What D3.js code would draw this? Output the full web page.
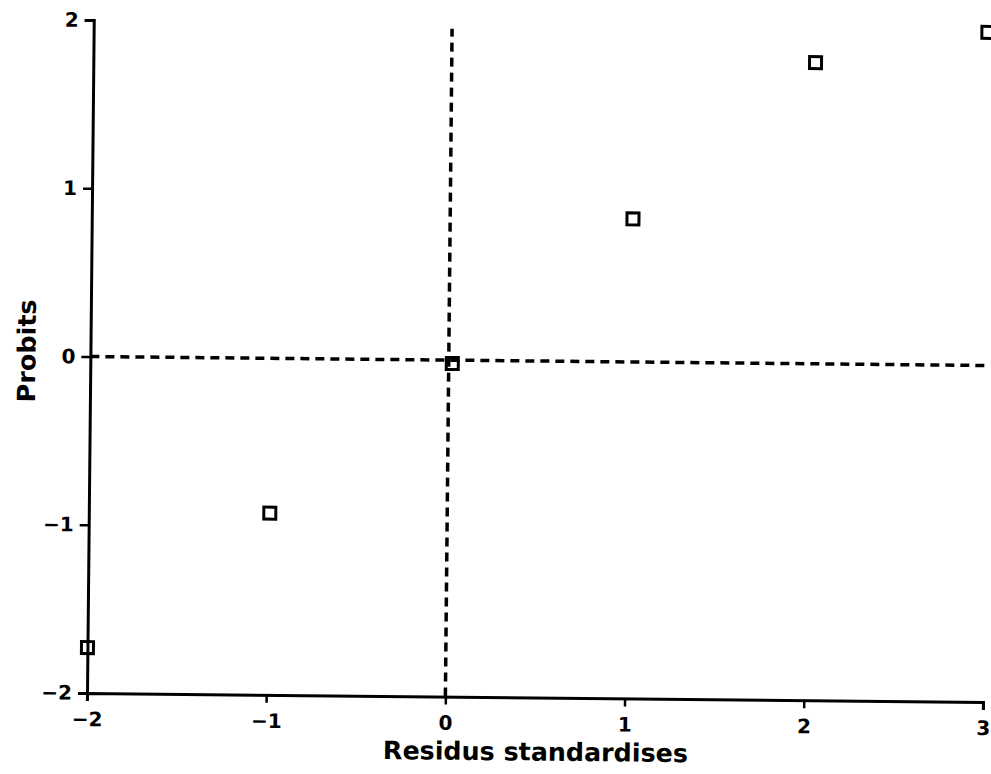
<!DOCTYPE html>
<html>
<head>
<meta charset="utf-8">
<script src="https://cdn.jsdelivr.net/npm/d3@7"></script>
<style>
	body { margin: 0; background: #fff; }
	svg { display: block; }
	text { font-family: "DejaVu Sans", sans-serif; font-weight: bold; fill: #000; }
</style>
</head>
<body>
<div id="chart"></div>
<script>
// residus standardises (x) vs probits (y)
var residus = [-2.0, -0.99, 0.02, 1.02, 2.03, 2.99];
var probits = [-1.73, -0.92, -0.02, 0.85, 1.79, 1.98];
var xTicks = [-2, -1, 0, 1, 2, 3];
var yTicks = [-2, -1, 0, 1, 2];
var xLabel = "Residus standardises";
var yLabel = "Probits";

var margin = { top: 20, right: 8, bottom: 81, left: 87 },
	width = 991 - margin.left - margin.right,
	height = 774 - margin.top - margin.bottom;

var svg = d3.select("#chart")
	.append("svg")
	.attr("width", 991)
	.attr("height", 774);

// the scanned page is tilted a little clockwise
var g = svg.append("g")
	.attr("transform", "rotate(0.575," + margin.left + "," + (margin.top + height) + ") translate(" + margin.left + "," + margin.top + ")");

var x = d3.scaleLinear().domain([-2, 3]).range([0, 896]);
var y = d3.scaleLinear().domain([-2, 2]).range([height, 0]);

// reference lines at 0
g.append("line")
	.attr("x1", x(0)).attr("x2", x(0))
	.attr("y1", y(-2)).attr("y2", y(1.97))
	.attr("stroke", "#000")
	.attr("stroke-width", 3.5)
	.attr("stroke-dasharray", "9,6");

g.append("line")
	.attr("x1", x(-2)).attr("x2", x(3))
	.attr("y1", y(0)).attr("y2", y(0))
	.attr("stroke", "#000")
	.attr("stroke-width", 3.5)
	.attr("stroke-dasharray", "9,6");

var xAxis = g.append("g")
	.attr("transform", "translate(0," + height + ")")
	.call(d3.axisBottom(x).tickValues(xTicks).tickSize(8).tickPadding(11).tickFormat(d3.format("d")));

var yAxis = g.append("g")
	.call(d3.axisLeft(y).tickValues(yTicks).tickSize(9).tickPadding(6).tickFormat(d3.format("d")));

[xAxis, yAxis].forEach(function (a) {
	a.attr("font-size", 20).attr("font-family", "DejaVu Sans, sans-serif");
	a.select(".domain").attr("stroke", "#000").attr("stroke-width", 3);
	a.selectAll(".tick line").attr("stroke", "#000").attr("stroke-width", 2.5);
	a.selectAll(".tick text")
		.style("font-weight", "bold")
		.style("font-size", "20px");
});

// open squares
g.selectAll("rect.pt")
	.data(residus)
	.enter()
	.append("rect")
	.attr("class", "pt")
	.attr("x", function (d) { return x(d) - 6; })
	.attr("y", function (d, i) { return y(probits[i]) - 6; })
	.attr("width", 12)
	.attr("height", 12)
	.attr("fill", "none")
	.attr("stroke", "#000")
	.attr("stroke-width", 3);

g.append("text")
	.attr("text-anchor", "middle")
	.attr("x", 449)
	.attr("y", height + 63)
	.attr("textLength", 305)
	.attr("lengthAdjust", "spacingAndGlyphs")
	.style("font-size", "25px")
	.text(xLabel);

g.append("text")
	.attr("text-anchor", "middle")
	.attr("transform", "rotate(-90)")
	.attr("x", -(y(0) - 5))
	.attr("y", -55)
	.attr("textLength", 103)
	.attr("lengthAdjust", "spacingAndGlyphs")
	.style("font-size", "25px")
	.text(yLabel);
</script>
</body>
</html>
